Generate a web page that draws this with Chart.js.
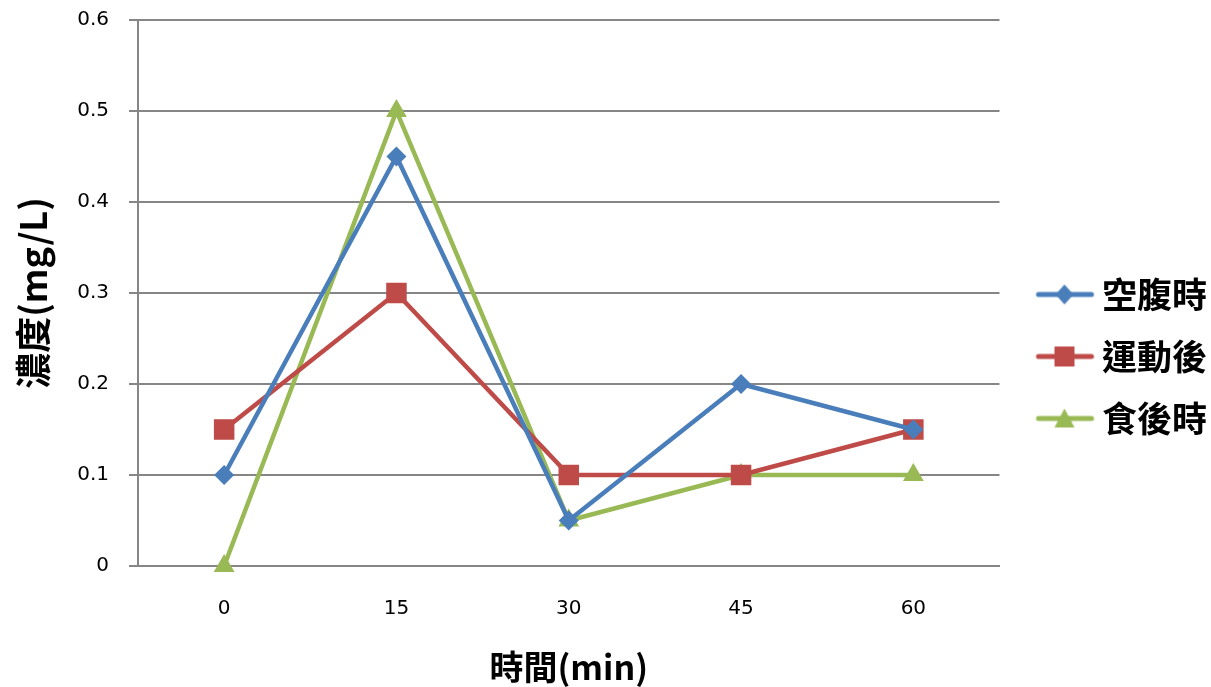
<!DOCTYPE html>
<html>
<head>
<meta charset="utf-8">
<script src="https://cdn.jsdelivr.net/npm/chart.js@4"></script>
<style>
  html, body { margin: 0; padding: 0; background: #fff; }
</style>
</head>
<body>
<canvas id="chart" width="1211" height="687"></canvas>
<script>
// data
const minutes = ['0', '15', '30', '45', '60'];
const fasting = [0.1, 0.45, 0.05, 0.2, 0.15];      // 空腹時
const afterExercise = [0.15, 0.3, 0.1, 0.1, 0.15]; // 運動後
const afterMeal = [0, 0.5, 0.05, 0.1, 0.1];        // 食後時

const BLUE = '#4a7ebb';
const RED = '#be4b48';
const GREEN = '#98b954';
const GRID = '#868686';
const FONT = '"Noto Sans CJK TC", "Noto Sans", sans-serif';
const TICK_FONT = '"DejaVu Sans", sans-serif';

// small image of line + marker for the legend (line sits right of centre, see pointStyleWidth)
function legendIcon(color, style) {
    const c = document.createElement('canvas');
    c.width = 80;
    c.height = 24;
    const ctx = c.getContext('2d');
    ctx.strokeStyle = color;
    ctx.lineWidth = 5;
    ctx.lineCap = 'round';
    ctx.beginPath();
    ctx.moveTo(23, 12);
    ctx.lineTo(76, 12);
    ctx.stroke();
    ctx.fillStyle = color;
    ctx.beginPath();
    const cx = 49;
    if (style === 'diamond') {
        ctx.moveTo(cx, 2); ctx.lineTo(cx + 9, 12); ctx.lineTo(cx, 22); ctx.lineTo(cx - 9, 12);
    } else if (style === 'square') {
        ctx.rect(cx - 10, 2, 20, 20);
    } else {
        ctx.moveTo(cx, 2); ctx.lineTo(cx + 10, 21); ctx.lineTo(cx - 10, 21);
    }
    ctx.closePath();
    ctx.fill();
    return c;
}

const icons = [legendIcon(BLUE, 'diamond'), legendIcon(RED, 'square'), legendIcon(GREEN, 'triangle')];

new Chart(document.getElementById('chart').getContext('2d'), {
    type: 'line',
    data: {
        labels: minutes,
        datasets: [
            {
                label: '空腹時',
                data: fasting,
                borderColor: BLUE,
                backgroundColor: BLUE,
                borderWidth: 4.5,
                pointStyle: 'rectRot',
                pointRadius: 10,
                pointBorderWidth: 0,
                tension: 0
            },
            {
                label: '運動後',
                data: afterExercise,
                borderColor: RED,
                backgroundColor: RED,
                borderWidth: 4.5,
                pointStyle: 'rect',
                pointRadius: 14.5,
                pointBorderWidth: 0,
                tension: 0
            },
            {
                label: '食後時',
                data: afterMeal,
                borderColor: GREEN,
                backgroundColor: GREEN,
                borderWidth: 4.5,
                pointStyle: 'triangle',
                pointRadius: 12,
                pointBorderWidth: 0,
                tension: 0
            }
        ]
    },
    options: {
        responsive: false,
        animation: false,
        clip: false,
        layout: {
            padding: { left: 12, right: -6, top: 20, bottom: 0 }
        },
        plugins: {
            tooltip: { enabled: false },
            legend: {
                position: 'right',
                title: { display: true, text: ' ', font: { size: 5 }, padding: 0 },
                labels: {
                    usePointStyle: true,
                    pointStyleWidth: 58,
                    padding: 27,
                    color: '#000',
                    font: { family: FONT, size: 35, weight: 'bold' },
                    generateLabels: chart => chart.data.datasets.map((ds, i) => ({
                        text: ds.label,
                        pointStyle: icons[i],
                        fillStyle: ds.borderColor,
                        strokeStyle: ds.borderColor,
                        lineWidth: 0,
                        fontColor: '#000',
                        datasetIndex: i
                    }))
                }
            }
        },
        scales: {
            x: {
                offset: true,
                afterFit: scale => { scale.height = 121; },
                grid: { display: false, drawTicks: false },
                border: { display: true, color: GRID, width: 2 },
                ticks: {
                    color: '#000',
                    padding: 31,
                    font: { family: TICK_FONT, size: 20 }
                },
                title: {
                    display: true,
                    text: '時間(min)',
                    color: '#000',
                    font: { family: FONT, size: 34, weight: 'bold' },
                    padding: { top: 0, bottom: 0 }
                }
            },
            y: {
                min: 0,
                max: 0.6,
                afterFit: scale => { scale.paddingTop = 0; },
                ticks: {
                    stepSize: 0.1,
                    color: '#000',
                    padding: 20,
                    font: { family: TICK_FONT, size: 20 },
                    callback: v => String(Math.round(v * 10) / 10)
                },
                grid: { color: GRID, lineWidth: 2, tickLength: 9 },
                border: { display: true, color: GRID, width: 2 },
                title: {
                    display: true,
                    text: '濃度(mg/L)',
                    color: '#000',
                    font: { family: FONT, size: 36, weight: 'bold' },
                    padding: { top: 0, bottom: 2 }
                }
            }
        }
    }
});
</script>
</body>
</html>
